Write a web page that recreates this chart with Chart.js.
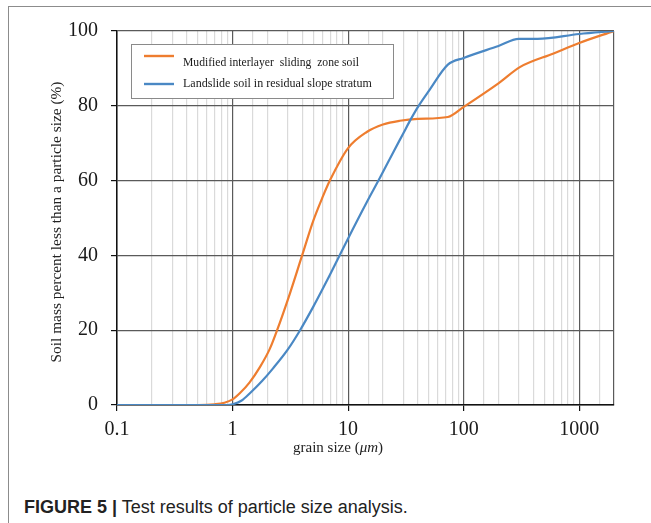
<!DOCTYPE html>
<html>
<head>
<meta charset="utf-8">
<script src="https://cdn.jsdelivr.net/npm/chart.js@4/dist/chart.umd.min.js"></script>
<style>
  html, body { margin: 0; padding: 0; background: #fff; overflow: hidden; }
  body { width: 651px; height: 523px; position: relative; }
  #frame { position: absolute; left: 8px; top: 6px; width: 700px; height: 600px;
           border-left: 1.5px solid #8c8c8c; border-top: 1.5px solid #8c8c8c; }
  #chartCanvas { position: absolute; left: 0; top: 0; }
  #caption { position: absolute; left: 24px; top: 497px; font-family: "Liberation Sans", Arial, sans-serif;
             font-size: 18px; line-height: 20px; color: #222; white-space: nowrap; }
  #caption b { font-weight: bold; }
</style>
</head>
<body>
<div id="frame"></div>
<canvas id="chartCanvas" width="651" height="470"></canvas>
<div id="caption"><b>FIGURE 5 |</b> Test results of particle size analysis.</div>
<script>
// grain size (um) and cumulative percent passing
var orangeSize = [0.1, 0.5, 0.7, 0.85, 1, 1.16, 1.4, 1.73, 2.1, 2.43, 3.15, 4, 5, 6, 7, 10, 14.5, 20, 28, 40, 73, 100, 200, 309, 600, 1000, 2000];
var orangePct  = [0, 0, 0.2, 0.6, 1.5, 3.2, 6, 10.2, 15, 20, 30, 40, 49.3, 55.5, 60.2, 68.7, 73, 75, 76, 76.5, 77, 79.7, 86, 90.4, 94, 96.8, 100];

var blueSize = [0.1, 0.5, 0.9, 1, 1.2, 1.42, 1.8, 2.24, 3, 3.84, 5, 6.6, 9.8, 14.5, 18.9, 25, 30, 35, 40, 50, 73, 100, 200, 300, 436, 1000, 2000];
var bluePct  = [0, 0, 0, 0.2, 1.2, 3.2, 6.4, 9.8, 14.8, 20, 26.3, 33.4, 44, 54.2, 60.8, 68, 72.6, 76.5, 79.6, 84, 91, 92.8, 96, 97.9, 97.9, 99.2, 100];

var seriesNames = ["Mudified interlayer  sliding  zone soil", "Landslide soil in residual slope stratum"];
var seriesColors = ["#ee7d2f", "#4a88c4"];

var xTickLabels = ["0.1", "1", "10", "100", "1000"];
var yTicks = [0, 20, 40, 60, 80, 100];

var X_MIN = 0.1, X_MAX = 2000;

function toPoints(xs, ys) {
    return xs.map((x, i) => ({ x: x, y: ys[i] }));
}

function isDecade(v) {
    var l = Math.log10(v);
    return Math.abs(l - Math.round(l)) < 1e-6;
}

// draw text fitted to a target width
function fitText(ctx, text, style, family, size, target) {
    ctx.font = style + size + "px " + family;
    var w = ctx.measureText(text).width;
    var s = size * target / w;
    ctx.font = style + s.toFixed(2) + "px " + family;
    return s;
}

const decorPlugin = {
    id: "decor",
    afterDatasetsDraw(chart) {
        const ctx = chart.ctx;
        const serif = '"Liberation Serif", "Times New Roman", serif';
        ctx.save();

        // legend box
        ctx.fillStyle = "#fff";
        ctx.fillRect(131, 44, 262, 54);
        ctx.strokeStyle = "#8a8a8a";
        ctx.lineWidth = 1;
        ctx.strokeRect(131.5, 44.5, 262, 54);

        var rows = [{ ly: 56, ty: 62.5, w: 176 }, { ly: 84, ty: 83.5, w: 189 }];
        rows.forEach((r, i) => {
            ctx.strokeStyle = seriesColors[i];
            ctx.lineWidth = 2.4;
            ctx.beginPath();
            ctx.moveTo(144, r.ly);
            ctx.lineTo(174, r.ly);
            ctx.stroke();
            ctx.fillStyle = "#1a1a1a";
            ctx.textAlign = "left";
            ctx.textBaseline = "middle";
            fitText(ctx, seriesNames[i], "", serif, 11, r.w);
            ctx.fillText(seriesNames[i], 183, r.ty);
        });

        // y axis title
        ctx.save();
        ctx.translate(57, 222);
        ctx.rotate(-Math.PI / 2);
        ctx.fillStyle = "#222";
        ctx.textAlign = "center";
        ctx.textBaseline = "middle";
        fitText(ctx, "Soil mass percent less than a particle size (%)", "", serif, 14, 281);
        ctx.fillText("Soil mass percent less than a particle size (%)", 0, 0);
        ctx.restore();

        // x axis title with italic unit
        var parts = [["grain size (", ""], ["\u03bcm", "italic "], [")", ""]];
        var size = 15;
        var total = 0;
        parts.forEach(p => { ctx.font = p[1] + size + "px " + serif; total += ctx.measureText(p[0]).width; });
        var x = 338 - total / 2;
        ctx.fillStyle = "#222";
        ctx.textAlign = "left";
        ctx.textBaseline = "middle";
        parts.forEach(p => {
            ctx.font = p[1] + size + "px " + serif;
            ctx.fillText(p[0], x, 448);
            x += ctx.measureText(p[0]).width;
        });

        ctx.restore();
    }
};

const tickFont = { family: '"Liberation Serif", "Times New Roman", serif', size: 20 };

new Chart(document.getElementById("chartCanvas"), {
    type: "line",
    data: {
        datasets: [
            {
                label: seriesNames[0],
                data: toPoints(orangeSize, orangePct),
                borderColor: seriesColors[0],
                borderWidth: 2.2,
                pointRadius: 0,
                cubicInterpolationMode: "monotone",
                fill: false,
                order: 1
            },
            {
                label: seriesNames[1],
                data: toPoints(blueSize, bluePct),
                borderColor: seriesColors[1],
                borderWidth: 2.2,
                pointRadius: 0,
                cubicInterpolationMode: "monotone",
                fill: false,
                order: 0
            }
        ]
    },
    options: {
        responsive: false,
        animation: false,
        devicePixelRatio: 1,
        layout: { padding: { top: 31, right: 37, left: 0, bottom: 0 } },
        plugins: { legend: { display: false }, tooltip: { enabled: false } },
        scales: {
            x: {
                type: "logarithmic",
                min: X_MIN,
                max: X_MAX,
                afterFit: function (scale) { scale.height = 65; },
                ticks: {
                    autoSkip: false,
                    maxRotation: 0,
                    padding: 7,
                    color: "#1a1a1a",
                    font: tickFont,
                    callback: function (value) {
                        if (!isDecade(value)) return "";
                        var idx = Math.round(Math.log10(value)) + 1;
                        return xTickLabels[idx] || "";
                    }
                },
                grid: {
                    color: function (c) {
                        var v = c.tick ? c.tick.value : 0;
                        return (isDecade(v) || v >= X_MAX) ? "#5a5a5a" : "#dadada";
                    },
                    lineWidth: 1.2,
                    tickLength: 6,
                    tickColor: function (c) {
                        var v = c.tick ? c.tick.value : 0;
                        return isDecade(v) ? "#111" : "rgba(0,0,0,0)";
                    }
                },
                border: { color: "#111", width: 1.5 }
            },
            y: {
                min: yTicks[0],
                max: yTicks[yTicks.length - 1],
                afterFit: function (scale) { scale.width = 117; },
                afterBuildTicks: function (scale) { scale.ticks = yTicks.map(v => ({ value: v })); },
                ticks: { padding: 13, color: "#1a1a1a", font: tickFont },
                grid: { color: "#5a5a5a", lineWidth: 1.2, tickLength: 6, tickColor: "#111" },
                border: { color: "#111", width: 1.5 }
            }
        }
    },
    plugins: [decorPlugin]
});
</script>
</body>
</html>
